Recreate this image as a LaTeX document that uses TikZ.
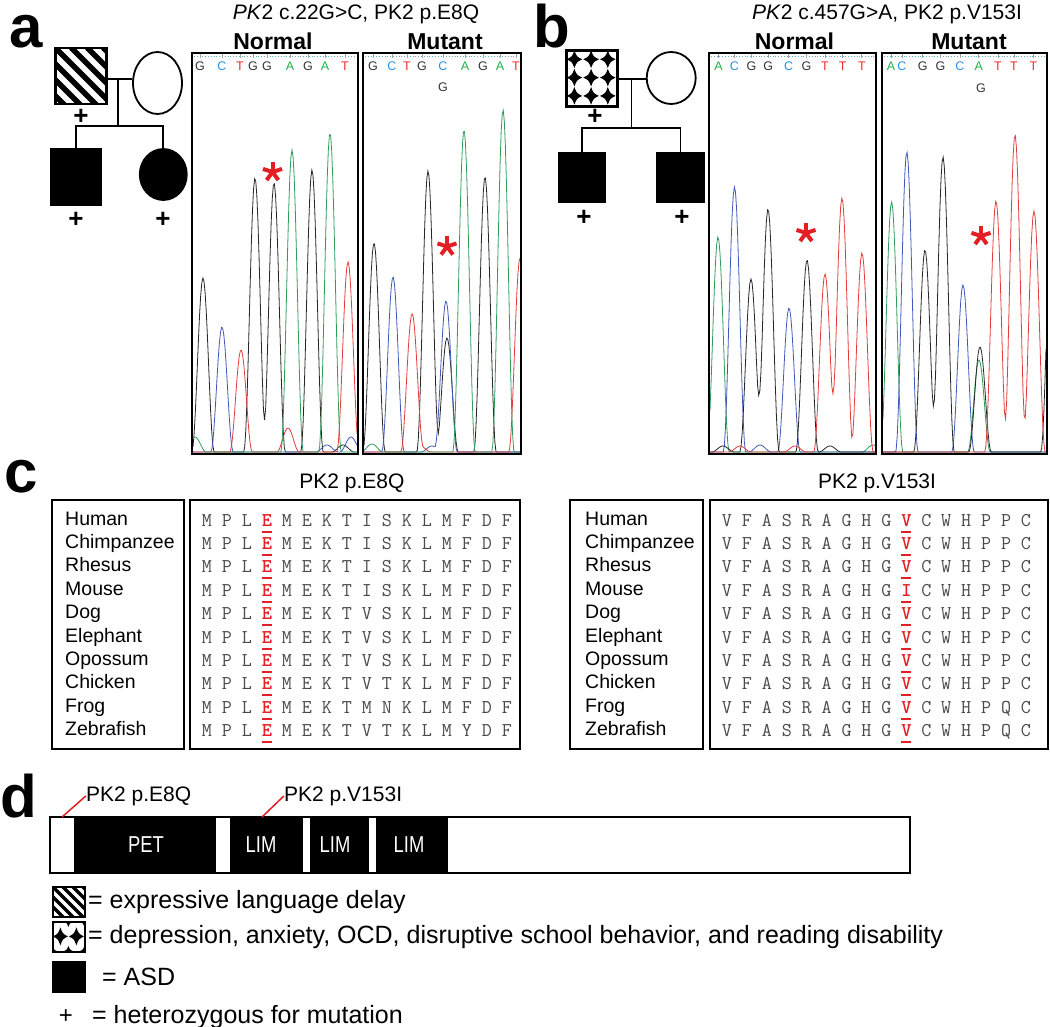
\documentclass[tikz,border=0pt]{standalone}
\usepackage{fontspec}
\setmainfont{Liberation Sans}
\newfontfamily\narrowfam[FakeStretch=0.8]{Liberation Sans}
\usetikzlibrary{shapes.geometric,calc}
\definecolor{cG}{HTML}{333333}
\definecolor{cC}{HTML}{2F8FDF}
\definecolor{cT}{HTML}{EC2D2D}
\definecolor{cA}{HTML}{1FB34A}
\definecolor{tK}{HTML}{262626}
\definecolor{tB}{HTML}{4058B8}
\definecolor{tR}{HTML}{E63B3B}
\definecolor{tG}{HTML}{2E9D5A}
\definecolor{mred}{HTML}{E31E24}
\definecolor{seqgray}{HTML}{4A4A4A}
\newcommand\fsz[1]{\fontsize{#1}{#1}\selectfont}
\newcommand\dstar[4]{\fill ({#1},{#2-#4}) .. controls ({#1+0.3*#3},{#2-0.3*#4}) .. ({#1+#3},{#2}) .. controls ({#1+0.3*#3},{#2+0.3*#4}) .. ({#1},{#2+#4}) .. controls ({#1-0.3*#3},{#2+0.3*#4}) .. ({#1-#3},{#2}) .. controls ({#1-0.3*#3},{#2-0.3*#4}) .. cycle;}
\newcommand\redstar[1]{\foreach \ang in {90,18,-54,-126,162}{\draw[mred,line width=4pt] (#1) -- ++({10*cos(\ang)},{-10*sin(\ang)});}}
\begin{document}
\begin{tikzpicture}[x=1pt,y=-1pt,
  declare function={pk(\t,\c,\h)=\h*(0.5+0.5*cos(min(180,abs(\t-\c)*16)));},
  pedline/.style={line width=1.8pt},
  pedsq/.style={draw, line width=1.8pt, rectangle, inner sep=0pt},
  pedel/.style={draw, line width=1.8pt, ellipse, inner sep=0pt},
  plussign/.style={font=\bfseries\fsz{26}, inner sep=0pt},
  panel/.style={font=\bfseries\fsz{60}, inner sep=0pt, anchor=base west},
  ttl/.style={font=\fsz{21}, inner sep=0pt, anchor=base},
  hdr/.style={font=\bfseries\fsz{23}, inner sep=0pt, anchor=base},
  chrombox/.style={draw, line width=2pt, rectangle, inner sep=0pt, minimum height=401pt},
  trace/.style={line width=0.8pt},
  basel/.style={font=\fsz{12.5}, inner sep=0pt},
  tickc/.style={draw=gray!70, line width=1pt},
  sp/.style={font=\fsz{19.5}, inner sep=0pt, anchor=base west},
  aa/.style={font=\ttfamily\fsz{19.5}, text=seqgray, inner sep=0pt, anchor=base},
  aared/.style={font=\ttfamily\bfseries\fsz{19.5}, text=mred, inner sep=0pt, anchor=base},
  spbox/.style={draw, line width=2pt, rectangle, inner sep=0pt, minimum height=249pt},
  seqbox/.style={draw, line width=2.6pt, rectangle, inner sep=0pt, minimum height=249pt},
  seg/.style={fill=black, rectangle, inner sep=0pt, minimum height=56pt},
  seglbl/.style={font=\narrowfam\fsz{23}, text=white, inner sep=0pt},
  lbl/.style={font=\fsz{21}, inner sep=0pt, anchor=base west},
  leg/.style={font=\fsz{25}, inner sep=0pt, anchor=west},
  legicon/.style={draw, line width=1.2pt, rectangle, inner sep=0pt, minimum width=32pt, minimum height=30pt},
  mutline/.style={draw=mred, line width=1.5pt}
]
\fill[white] (0,0) rectangle (1050,1027);
\useasboundingbox (0,0) rectangle (1050,1027);

% ---------------- panel labels and titles
\node[panel] (pa) at (9,48) {a};
\node[panel] (pb) at (533,48) {b};
\node[panel] (pc) at (4,492) {c};
\node[panel] (pd) at (0,817) {d};
\node[ttl] (ta) at (356,20) {\textit{PK}2 c.22G>C, PK2 p.E8Q};
\node[ttl] (tb) at (887,20) {\textit{PK}2 c.457G>A, PK2 p.V153I};
\node[hdr] (han) at (273,50) {Normal};
\node[hdr] (ham) at (445,50) {Mutant};
\node[hdr] (hbn) at (794.5,50) {Normal};
\node[hdr] (hbm) at (969,50) {Mutant};

% ---------------- pedigree a
\node[pedsq, minimum width=50pt, minimum height=55pt] (afa) at (81,76) {};
\begin{scope}
  \clip (afa.north west) rectangle (afa.south east);
  \foreach \k in {-64,-48,...,48}
    \draw[line width=5.5pt] ($(afa.north west)+(\k,0)$) -- ++(70,70);
\end{scope}
\draw[line width=1.8pt] (afa.north west) rectangle (afa.south east);
\node[pedel, minimum width=49pt, minimum height=62pt] (amo) at (157.5,83) {};
\coordinate (amar) at (118,79);
\coordinate (asib) at (118,126);
\draw[pedline] (afa.east |- amar) -- (amo.west |- amar);
\draw[pedline] (amar) -- (asib);
\node[pedsq, fill=black, minimum width=50pt, minimum height=56pt] (ac1) at (76,177) {};
\node[pedel, fill=black, minimum width=47pt, minimum height=51pt] (ac2) at (163.3,174.5) {};
\draw[pedline] (ac1.north) |- (asib) -| (ac2.north);
\node[plussign] (ap0) at (81,117) {+};
\node[plussign] (ap1) at (76,220) {+};
\node[plussign] (ap2) at (163,220) {+};

% ---------------- pedigree b
\node[pedsq, minimum width=50pt, minimum height=55pt] (bfa) at (592,78.5) {};
\begin{scope}
  \clip (bfa.north west) rectangle (bfa.south east);
  \begin{scope}[shift={(bfa.north west)}]
    \foreach \i in {0,1,2} \foreach \j in {0,1,2} {
      \dstar{8.3+16.7*\i}{9.2+18.3*\j}{7.8}{8.8}
    }
  \end{scope}
\end{scope}
\draw[line width=1.8pt] (bfa.north west) rectangle (bfa.south east);
\node[pedel, minimum width=49pt, minimum height=52pt] (bmo) at (671.2,78) {};
\coordinate (bmar) at (631.5,79);
\coordinate (bsib) at (631.5,128);
\draw[pedline] (bfa.east |- bmar) -- (bmo.west |- bmar);
\draw[pedline] (bmar) -- (bsib);
\node[pedsq, fill=black, minimum width=46pt, minimum height=49pt] (bc1) at (582,177.5) {};
\node[pedsq, fill=black, minimum width=47pt, minimum height=49pt] (bc2) at (680.5,177.5) {};
\draw[pedline] (bc1.north) |- (bsib) -| (bc2.north);
\node[plussign] (bp0) at (595,117) {+};
\node[plussign] (bp1) at (584,218) {+};
\node[plussign] (bp2) at (682,218) {+};

% ---------------- chromatogram traces
% a normal
\draw[trace,tK] plot[domain=193:357,samples=150] (\x,{452-pk(\x,203,174)-pk(\x,255,274)-pk(\x,274,269)-pk(\x,312,282)-pk(\x,343,7)});
\draw[trace,tB] plot[domain=193:357,samples=150] (\x,{452-pk(\x,222,125)-pk(\x,327,7)-pk(\x,351,15)});
\draw[trace,tR] plot[domain=193:357,samples=150] (\x,{452-pk(\x,241,102)-pk(\x,288,24)-pk(\x,348,190)});
\draw[trace,tG] plot[domain=193:357,samples=150] (\x,{452-pk(\x,195,15)-pk(\x,292,302)-pk(\x,330,319)});
% a mutant
\draw[trace,tK] plot[domain=364:520,samples=150] (\x,{452-pk(\x,374,209)-pk(\x,428,281)-pk(\x,447,114)-pk(\x,485,275)});
\draw[trace,tB] plot[domain=364:520,samples=150] (\x,{452-pk(\x,393,175)-pk(\x,446,151)-pk(\x,432,6)});
\draw[trace,tR] plot[domain=364:520,samples=150] (\x,{452-pk(\x,412,137)-pk(\x,520,194)-pk(\x,420,6)});
\draw[trace,tG] plot[domain=364:520,samples=150] (\x,{452-pk(\x,464,322)-pk(\x,503,342)-pk(\x,372,8)});
% b normal
\draw[trace,tG] plot[domain=710:875,samples=150] (\x,{452-pk(\x,718,215)-pk(\x,873,7)});
\draw[trace,tB] plot[domain=710:875,samples=150] (\x,{452-pk(\x,734.5,265)-pk(\x,789,144)-pk(\x,760,7)});
\draw[trace,tK] plot[domain=710:875,samples=150] (\x,{452-pk(\x,751,173)-pk(\x,768,243)-pk(\x,807,192)-pk(\x,723,6)-pk(\x,830,6)});
\draw[trace,tR] plot[domain=710:875,samples=150] (\x,{452-pk(\x,825,178)-pk(\x,842,254)-pk(\x,862,199)-pk(\x,740,6)-pk(\x,795,6)});
% b mutant
\draw[trace,tG] plot[domain=883:1046,samples=150] (\x,{452-pk(\x,891.6,250)-pk(\x,979,92)});
\draw[trace,tB] plot[domain=883:1046,samples=150] (\x,{452-pk(\x,906.8,300)-pk(\x,963,167)});
\draw[trace,tK] plot[domain=883:1046,samples=150] (\x,{452-pk(\x,925,202)-pk(\x,943,295)-pk(\x,980,105)-pk(\x,1052,230)});
\draw[trace,tR] plot[domain=883:1046,samples=150] (\x,{452-pk(\x,996,251)-pk(\x,1015,317)-pk(\x,1034,241)});

% ---------------- chromatogram boxes
\node[chrombox, minimum width=166pt] (anor) at (275,253.5) {};
\node[chrombox, minimum width=158pt] (amut) at (442,253.5) {};
\node[chrombox, minimum width=167pt] (bnor) at (792.5,253.5) {};
\node[chrombox, minimum width=165pt] (bmut) at (964.5,253.5) {};
\draw[teal!60, dotted, line width=0.8pt] (194,56) -- (356,56);
\draw[teal!60, dotted, line width=0.8pt] (365,56) -- (519,56);
\draw[teal!60, dotted, line width=0.8pt] (711,56) -- (874,56);
\draw[teal!60, dotted, line width=0.8pt] (884,56) -- (1045,56);

% base calls
\foreach \b/\xx [count=\i] in {G/200,C/222,T/240,G/253,G/267,A/290,G/308,A/325,T/345}
  {\node[basel, text=c\b] (anb\i) at (\xx,66) {\b}; \draw[tickc] (\xx,54) -- (\xx,58);}
\foreach \b/\xx [count=\i] in {G/373,C/392,T/407,G/422,C/443,A/465,G/483,A/500,T/516}
  {\node[basel, text=c\b] (amb\i) at (\xx,66) {\b}; \draw[tickc] (\xx,54) -- (\xx,58);}
\foreach \b/\xx [count=\i] in {A/718.6,C/734.5,G/751.4,G/768.3,C/788.6,G/806.5,T/825,T/842.6,T/861.9}
  {\node[basel, text=c\b] (bnb\i) at (\xx,66) {\b}; \draw[tickc] (\xx,54) -- (\xx,58);}
\foreach \b/\xx [count=\i] in {A/891,C/902,G/922.7,G/940.6,C/960,A/978.8,T/998,T/1014,T/1033.5}
  {\node[basel, text=c\b] (bmb\i) at (\xx,66) {\b}; \draw[tickc] (\xx,54) -- (\xx,58);}
\node[basel, text=cG] (amg) at (443,87) {G};
\node[basel, text=cG] (bmg) at (981,88) {G};

% asterisks
\coordinate (s1) at (272.5,172);
\coordinate (s2) at (447,246.5);
\coordinate (s3) at (806,233);
\coordinate (s4) at (981,236);
\redstar{s1}\redstar{s2}\redstar{s3}\redstar{s4}

% ---------------- panel c
\node[ttl] (tc1) at (352,488) {PK2 p.E8Q};
\node[ttl] (tc2) at (877,488) {PK2 p.V153I};
\node[spbox, minimum width=132pt] (spb1) at (118,624.5) {};
\node[seqbox, minimum width=330pt] (sqb1) at (355,624.5) {};
\node[spbox, minimum width=133pt] (spb2) at (636.5,624.5) {};
\node[seqbox, minimum width=338pt] (sqb2) at (879,624.5) {};
\foreach \s [count=\r from 0] in {Human,Chimpanzee,Rhesus,Mouse,Dog,Elephant,Opossum,Chicken,Frog,Zebrafish}{
  \node[sp] (sa\r) at (65,{525+23.4*\r}) {\s};
  \node[sp] (sb\r) at (585,{525+23.4*\r}) {\s};
}
\foreach \row [count=\r from 0] in {
  {M,P,L,E,M,E,K,T,I,S,K,L,M,F,D,F},
  {M,P,L,E,M,E,K,T,I,S,K,L,M,F,D,F},
  {M,P,L,E,M,E,K,T,I,S,K,L,M,F,D,F},
  {M,P,L,E,M,E,K,T,I,S,K,L,M,F,D,F},
  {M,P,L,E,M,E,K,T,V,S,K,L,M,F,D,F},
  {M,P,L,E,M,E,K,T,V,S,K,L,M,F,D,F},
  {M,P,L,E,M,E,K,T,V,S,K,L,M,F,D,F},
  {M,P,L,E,M,E,K,T,V,T,K,L,M,F,D,F},
  {M,P,L,E,M,E,K,T,M,N,K,L,M,F,D,F},
  {M,P,L,E,M,E,K,T,V,T,K,L,M,Y,D,F}}{
  \foreach \ch [count=\i from 0] in \row {
    \pgfmathsetmacro\xx{207+20*\i}
    \pgfmathsetmacro\yy{526+23.4*\r}
    \ifnum\i=3
      \node[aared] (ea\r-\i) at (\xx,\yy) {\ch};
      \draw[mred, line width=2pt] ({\xx-5},{\yy+5.5}) -- ({\xx+5},{\yy+5.5});
    \else
      \node[aa] (ea\r-\i) at (\xx,\yy) {\ch};
    \fi
  }
}
\foreach \row [count=\r from 0] in {
  {V,F,A,S,R,A,G,H,G,V,C,W,H,P,P,C},
  {V,F,A,S,R,A,G,H,G,V,C,W,H,P,P,C},
  {V,F,A,S,R,A,G,H,G,V,C,W,H,P,P,C},
  {V,F,A,S,R,A,G,H,G,I,C,W,H,P,P,C},
  {V,F,A,S,R,A,G,H,G,V,C,W,H,P,P,C},
  {V,F,A,S,R,A,G,H,G,V,C,W,H,P,P,C},
  {V,F,A,S,R,A,G,H,G,V,C,W,H,P,P,C},
  {V,F,A,S,R,A,G,H,G,V,C,W,H,P,P,C},
  {V,F,A,S,R,A,G,H,G,V,C,W,H,P,Q,C},
  {V,F,A,S,R,A,G,H,G,V,C,W,H,P,Q,C}}{
  \foreach \ch [count=\i from 0] in \row {
    \pgfmathsetmacro\xx{727+19.93*\i}
    \pgfmathsetmacro\yy{526+23.4*\r}
    \ifnum\i=9
      \node[aared] (eb\r-\i) at (\xx,\yy) {\ch};
      \draw[mred, line width=2pt] ({\xx-5},{\yy+5.5}) -- ({\xx+5},{\yy+5.5});
    \else
      \node[aa] (eb\r-\i) at (\xx,\yy) {\ch};
    \fi
  }
}

% ---------------- panel d
\node[seg, minimum width=142pt] (pet) at (145,845) {};
\node[seg, minimum width=73pt] (lim1) at (266.5,845) {};
\node[seg, minimum width=59pt] (lim2) at (339.5,845) {};
\node[seg, minimum width=72pt] (lim3) at (412,845) {};
\node[draw, line width=2.5pt, rectangle, inner sep=0pt, minimum width=860pt, minimum height=56pt] (dbar) at (480,845) {};
\node[seglbl] (petl) at (146,845) {PET};
\node[seglbl] (lim1l) at (261,845) {LIM};
\node[seglbl] (lim2l) at (335,845) {LIM};
\node[seglbl] (lim3l) at (409,845) {LIM};
\node[lbl] (mu1) at (86,801) {PK2 p.E8Q};
\node[lbl] (mu2) at (284,801) {PK2 p.V153I};
\coordinate (mu1a) at (62,817);
\coordinate (mu2a) at (262,817);
\draw[mutline] (mu1a) -- (mu1.west);
\draw[mutline] (mu2a) -- (mu2.west);

% ---------------- legend
\node[legicon] (li1) at (69,902) {};
\begin{scope}
  \clip (li1.north west) rectangle (li1.south east);
  \foreach \k in {-40,-30,...,30}
    \draw[line width=3.5pt] ($(li1.north west)+(\k,0)$) -- ++(45,45);
\end{scope}
\draw[line width=1.2pt] (li1.north west) rectangle (li1.south east);
\node[legicon] (li2) at (69,937) {};
\begin{scope}
  \clip (li2.north west) rectangle (li2.south east);
  \begin{scope}[shift={(li2.north west)}]
    \dstar{8}{15}{7.5}{9}
    \dstar{24}{15}{7.5}{9}
    \foreach \px in {0,16,32} {\dstar{\px}{0}{5}{5.5} \dstar{\px}{30}{5}{5.5}}
  \end{scope}
\end{scope}
\draw[line width=1.2pt] (li2.north west) rectangle (li2.south east);
\node[legicon, fill=black] (li3) at (69,977) {};
\node[plussign, font=\fsz{24}] (li4) at (66,1017) {+};
\node[leg] (lt1) at (88,902) {= expressive language delay};
\node[leg] (lt2) at (88,937) {= depression, anxiety, OCD, disruptive school behavior, and reading disability};
\node[leg] (lt3) at (102,977) {= ASD};
\node[leg] (lt4) at (92,1017) {= heterozygous for mutation};
\end{tikzpicture}
\end{document}
